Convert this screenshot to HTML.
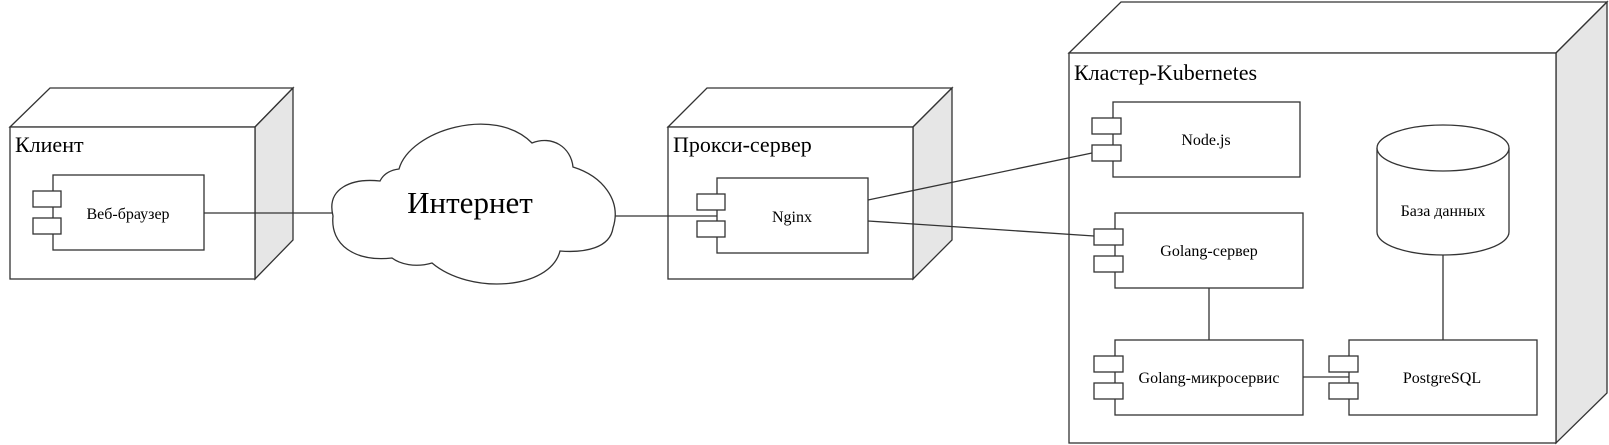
<!DOCTYPE html>
<html><head><meta charset="utf-8"><style>
html,body{margin:0;padding:0;background:#fff;}
svg{display:block;}
text{font-family:"Liberation Serif",serif;fill:#000;}
</style></head><body>
<svg width="1609" height="445" viewBox="0 0 1609 445" xmlns="http://www.w3.org/2000/svg">
<g stroke="#333" stroke-width="1.3" fill="#fff">
<!-- Client node -->
<polygon points="10,127 50,88 293,88 255,127" />
<polygon points="255,127 293,88 293,240 255,279" fill="#e6e6e6"/>
<rect x="10" y="127" width="245" height="152"/>
<!-- Proxy node -->
<polygon points="668,127 707,88 952,88 913,127" />
<polygon points="913,127 952,88 952,240 913,279" fill="#e6e6e6"/>
<rect x="668" y="127" width="245" height="152"/>
<!-- Kubernetes node -->
<polygon points="1069,53 1121,2 1607,2 1556,53" />
<polygon points="1556,53 1607,2 1607,393 1556,443" fill="#e6e6e6"/>
<rect x="1069" y="53" width="487" height="390"/>

<!-- lines -->
<line x1="204" y1="213" x2="334" y2="213" fill="none"/>
<line x1="612" y1="216" x2="717" y2="216" fill="none"/>
<line x1="868" y1="200" x2="1092" y2="153" fill="none"/>
<line x1="868" y1="221" x2="1094" y2="236" fill="none"/>
<line x1="1209" y1="288" x2="1209" y2="340" fill="none"/>
<line x1="1303" y1="377" x2="1349" y2="377" fill="none"/>
<line x1="1443" y1="255" x2="1443" y2="340" fill="none"/>

<!-- Cloud -->
<path d="M333 216 C326 188 352 178 380 181 C384 173 391 170 399 169 C410 130 495 105 532 143 C552 135 571 147 573 167 C602 176 622 200 613 228 C610 248 585 253 560 251 C550 290 470 295 432 263 C415 268 400 264 392 258 C355 262 330 245 333 216 Z"/>

<!-- Веб-браузер -->
<rect x="53" y="175" width="151" height="75"/>
<rect x="33" y="191" width="28" height="16"/>
<rect x="33" y="218" width="28" height="16"/>
<!-- Nginx -->
<rect x="717" y="178" width="151" height="75"/>
<rect x="697" y="194" width="28" height="16"/>
<rect x="697" y="221" width="28" height="16"/>
<!-- Node.js -->
<rect x="1113" y="102" width="187" height="75"/>
<rect x="1092" y="118" width="29" height="16"/>
<rect x="1092" y="145" width="29" height="16"/>
<!-- Golang-сервер -->
<rect x="1115" y="213" width="188" height="75"/>
<rect x="1094" y="229" width="29" height="16"/>
<rect x="1094" y="256" width="29" height="16"/>
<!-- Golang-микросервис -->
<rect x="1115" y="340" width="188" height="75"/>
<rect x="1094" y="356" width="29" height="16"/>
<rect x="1094" y="383" width="29" height="16"/>
<!-- PostgreSQL -->
<rect x="1349" y="340" width="188" height="75"/>
<rect x="1329" y="356" width="29" height="16"/>
<rect x="1329" y="383" width="29" height="16"/>
<!-- Database cylinder -->
<path d="M1377 148 L1377 232 A66 23 0 0 0 1509 232 L1509 148"/>
<ellipse cx="1443" cy="148" rx="66" ry="23"/>
</g>

<text x="15" y="152" font-size="22">Клиент</text>
<text x="673" y="152" font-size="22">Прокси-сервер</text>
<text x="1074" y="80" font-size="22">Кластер-Kubernetes</text>
<text x="470" y="213" font-size="31" text-anchor="middle">Интернет</text>
<text x="128" y="219" font-size="16" text-anchor="middle">Веб-браузер</text>
<text x="792" y="222" font-size="16" text-anchor="middle">Nginx</text>
<text x="1206" y="145" font-size="16" text-anchor="middle">Node.js</text>
<text x="1209" y="256" font-size="16" text-anchor="middle">Golang-сервер</text>
<text x="1209" y="383" font-size="16" text-anchor="middle">Golang-микросервис</text>
<text x="1442" y="383" font-size="16" text-anchor="middle">PostgreSQL</text>
<text x="1443" y="216" font-size="16" text-anchor="middle">База данных</text>
</svg>
</body></html>
